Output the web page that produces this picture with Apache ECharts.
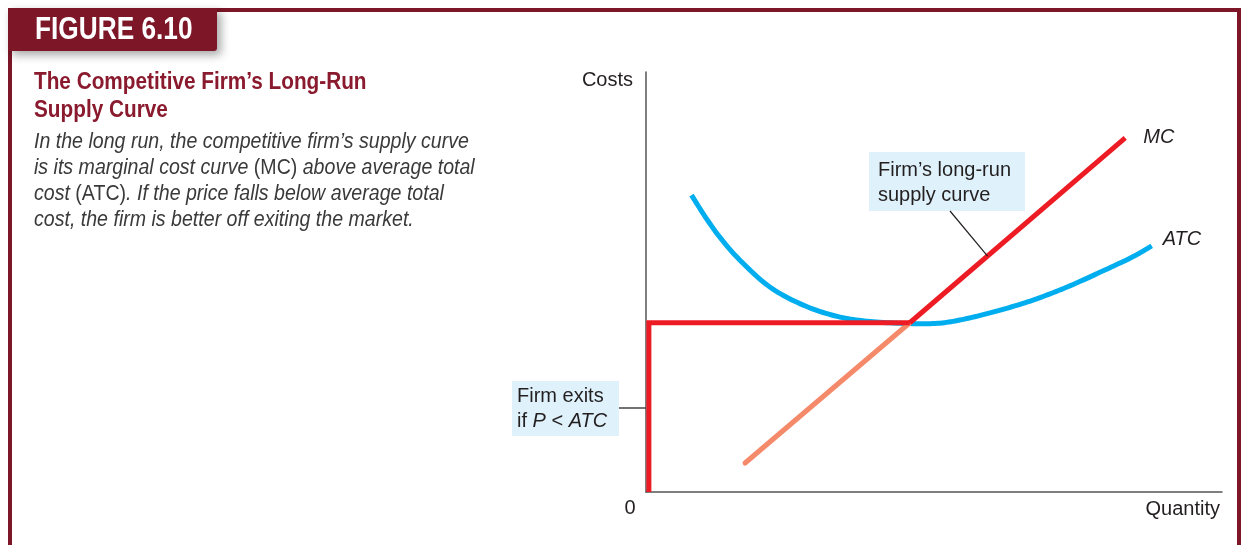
<!DOCTYPE html>
<html>
<head>
<meta charset="utf-8">
<script src="https://cdn.jsdelivr.net/npm/echarts@6/dist/echarts.min.js"></script>
<style>
html,body{margin:0;padding:0;background:#fff;}
#chart{width:1244px;height:545px;}
</style>
</head>
<body>
<div id="chart"></div>
<script>
// ---- data (quantity on x, costs on y, arbitrary units 0..100) ----
const atcQ    = [7.9, 10.2, 12.8, 16.3, 21.5, 27.3, 33.2, 38.9, 45.8, 51.0, 55.7, 61.5, 67.2, 73.1, 78.8, 84.5, 87.8];
const atcCost = [70.7, 65.7, 60.7, 55.2, 48.8, 44.5, 41.8, 40.6, 40.1, 40.2, 41.3, 43.3, 45.7, 48.8, 52.3, 56.0, 58.6];
const mcQ     = [17.2, 45.8, 83.2];
const mcCost  = [6.9, 40.3, 84.3];
const exitQ   = 0.5;         // exit segment sits on the cost axis
const minATC  = 40.3;        // price where MC crosses ATC
const supplyLabelQ = 59.3;   // where the "long-run supply" leader meets MC
const exitLabelCost = 20;    // where the "firm exits" leader meets the axis

const MAROON = '#7d1627';
const RED = '#ed1c24';
const SALMON = '#f58a6b';
const BLUE = '#00aeef';
const INK = '#231f20';
const BOX = '#dff1fa';

function zip(a, b) { return a.map((v, i) => [v, b[i]]); }
const atcData = zip(atcQ, atcCost);
const mcLower = zip(mcQ.slice(0, 2), mcCost.slice(0, 2));
const mcUpper = zip(mcQ.slice(1), mcCost.slice(1));
const exitData = [[exitQ, 0], [exitQ, minATC], [mcQ[1], minATC]];

// smooth curve through the data points (Catmull-Rom), mapped through the axes
function renderSmooth(params, api) {
  if (params.dataIndex !== 0) return null;
  const pts = atcData.map(p => api.coord(p));
  const out = [];
  const n = pts.length;
  for (let i = 0; i < n - 1; i++) {
    const p0 = pts[Math.max(i - 1, 0)], p1 = pts[i], p2 = pts[i + 1], p3 = pts[Math.min(i + 2, n - 1)];
    const c1 = [p1[0] + (p2[0] - p0[0]) / 6, p1[1] + (p2[1] - p0[1]) / 6];
    const c2 = [p2[0] - (p3[0] - p1[0]) / 6, p2[1] - (p3[1] - p1[1]) / 6];
    const steps = 12;
    for (let s = (i === 0 ? 0 : 1); s <= steps; s++) {
      const t = s / steps, u = 1 - t;
      out.push([
        u*u*u*p1[0] + 3*u*u*t*c1[0] + 3*u*t*t*c2[0] + t*t*t*p2[0],
        u*u*u*p1[1] + 3*u*u*t*c1[1] + 3*u*t*t*c2[1] + t*t*t*p2[1]
      ]);
    }
  }
  return {type: 'polyline', shape: {points: out},
          style: {stroke: BLUE, lineWidth: 5, fill: null, lineCap: 'butt', lineJoin: 'round'}};
}

const chart = echarts.init(document.getElementById('chart'), null, {renderer: 'canvas'});

const baseFont = '"Liberation Sans", Arial, Helvetica, sans-serif';

const option = {
  animation: false,
  grid: {left: 646, right: 22, top: 72, bottom: 53, containLabel: false},
  xAxis: {
    type: 'value', min: 0, max: 100,
    axisLine: {show: true, onZero: false, lineStyle: {color: '#555', width: 1.5}},
    axisTick: {show: false}, axisLabel: {show: false}, splitLine: {show: false},
    name: 'Quantity', nameLocation: 'end', nameGap: -2,
    nameTextStyle: {fontFamily: baseFont, fontSize: 20, color: INK, align: 'right', verticalAlign: 'top', padding: [7, 0, 0, 0]}
  },
  yAxis: {
    type: 'value', min: 0, max: 100,
    axisLine: {show: true, onZero: false, lineStyle: {color: '#555', width: 1.5}},
    axisTick: {show: false}, axisLabel: {show: false}, splitLine: {show: false},
    name: 'Costs', nameLocation: 'end', nameGap: -8,
    nameTextStyle: {fontFamily: baseFont, fontSize: 20, color: INK, align: 'right', verticalAlign: 'middle', padding: [0, 13, 0, 0]}
  },
  series: [
    {type: 'custom', name: 'ATC', data: atcData, renderItem: renderSmooth, encode: {x: 0, y: 1}, z: 2, clip: false},
    {type: 'line', name: 'MC below ATC', data: mcLower, showSymbol: false, z: 3,
     lineStyle: {color: SALMON, width: 5, cap: 'round'}},
    {type: 'line', name: 'Exit', data: exitData, showSymbol: false, z: 4,
     lineStyle: {color: RED, width: 5, cap: 'butt', join: 'miter'}},
    {type: 'line', name: 'MC', data: mcUpper, showSymbol: false, z: 5,
     lineStyle: {color: RED, width: 5, cap: 'butt'}}
  ]
};
chart.setOption(option);

// positions computed from data via the chart's scales
function px(q, c) { return chart.convertToPixel({gridIndex: 0}, [q, c]); }
function mcAt(q) {
  for (let i = 0; i < mcQ.length - 1; i++) {
    if (q >= mcQ[i] && q <= mcQ[i + 1]) {
      return mcCost[i] + (q - mcQ[i]) * (mcCost[i + 1] - mcCost[i]) / (mcQ[i + 1] - mcQ[i]);
    }
  }
  return mcCost[mcCost.length - 1];
}
const supplyAnchor = px(supplyLabelQ, mcAt(supplyLabelQ));
const exitAnchor = px(0, exitLabelCost);
const mcEnd = px(mcQ[2], mcCost[2]);
const atcEnd = px(atcQ[atcQ.length - 1], atcCost[atcCost.length - 1]);
const origin = px(0, 0);

const narrow = '"Liberation Sans", Arial, Helvetica, sans-serif';

const graphics = [
  // frame
  {type: 'rect', shape: {x: 8, y: 8, width: 1233, height: 4}, style: {fill: MAROON}, z: 1},
  {type: 'rect', shape: {x: 1237, y: 8, width: 4, height: 537}, style: {fill: MAROON}, z: 1},
  {type: 'rect', shape: {x: 8, y: 8, width: 4, height: 537}, style: {fill: MAROON}, z: 1},
  // badge
  {type: 'rect', shape: {x: 8, y: 8, width: 209, height: 43, r: [0, 0, 3, 0]},
   style: {fill: MAROON, shadowBlur: 10, shadowColor: 'rgba(0,0,0,0.35)', shadowOffsetX: 4, shadowOffsetY: 4}, z: 2},
  {type: 'text', x: 35, y: 30, scaleX: 0.82, z: 3,
   style: {text: 'FIGURE 6.10', fill: '#fff', font: 'bold 32px ' + narrow, verticalAlign: 'middle'}},
  // title
  {type: 'text', x: 34, y: 82, scaleX: 0.865, z: 3,
   style: {text: 'The Competitive Firm\u2019s Long-Run', fill: '#8a1a2e', font: 'bold 24px ' + narrow, verticalAlign: 'middle'}},
  {type: 'text', x: 34, y: 110, scaleX: 0.865, z: 3,
   style: {text: 'Supply Curve', fill: '#8a1a2e', font: 'bold 24px ' + narrow, verticalAlign: 'middle'}},
];

const bodyLines = [
  '{i|In the long run, the competitive firm\u2019s supply curve}',
  '{i|is its marginal cost curve }{n|(MC)}{i| above average total}',
  '{i|cost }{n|(ATC)}{i|. If the price falls below average total}',
  '{i|cost, the firm is better off exiting the market.}'
];
bodyLines.forEach((t, k) => {
  graphics.push({type: 'text', x: 34, y: 142 + k * 26, scaleX: 0.89, z: 3,
    style: {text: t, fill: '#3a3a3a', verticalAlign: 'middle',
      rich: {
        i: {fontFamily: narrow, fontSize: 22, fontStyle: 'italic', fill: '#3a3a3a', color: '#3a3a3a'},
        n: {fontFamily: narrow, fontSize: 22, fontStyle: 'normal', fill: '#3a3a3a', color: '#3a3a3a'}
      }}});
});

// supply-curve annotation
graphics.push(
  {type: 'line', shape: {x1: 950, y1: 211, x2: supplyAnchor[0], y2: supplyAnchor[1]},
   style: {stroke: '#231f20', lineWidth: 1.2}, z: 10},
  {type: 'rect', shape: {x: 869, y: 152, width: 156, height: 59}, style: {fill: BOX}, z: 9},
  {type: 'text', x: 878, y: 170, z: 11, style: {text: 'Firm\u2019s long-run', fill: INK, font: '20px ' + baseFont, verticalAlign: 'middle'}},
  {type: 'text', x: 878, y: 195, z: 11, style: {text: 'supply curve', fill: INK, font: '20px ' + baseFont, verticalAlign: 'middle'}},
  // exit annotation
  {type: 'line', shape: {x1: 619, y1: exitAnchor[1], x2: exitAnchor[0], y2: exitAnchor[1]},
   style: {stroke: '#444', lineWidth: 1.5}, z: 10},
  {type: 'rect', shape: {x: 512, y: 381, width: 107, height: 55}, style: {fill: BOX}, z: 9},
  {type: 'text', x: 517, y: 396, z: 11, style: {text: 'Firm exits', fill: INK, font: '20px ' + baseFont, verticalAlign: 'middle'}},
  {type: 'text', x: 517, y: 421, z: 11, style: {text: '{n|if }{i|P}{n| < }{i|ATC}', verticalAlign: 'middle',
    rich: {
      n: {fontFamily: baseFont, fontSize: 20, fontStyle: 'normal', fill: INK, color: INK},
      i: {fontFamily: baseFont, fontSize: 20, fontStyle: 'italic', fill: INK, color: INK}
    }}},
  // curve labels
  {type: 'text', x: mcEnd[0] + 18, y: mcEnd[1] - 1, z: 11,
   style: {text: 'MC', fill: INK, font: 'italic 20px ' + baseFont, verticalAlign: 'middle'}},
  {type: 'text', x: atcEnd[0] + 11, y: atcEnd[1] - 6, z: 11,
   style: {text: 'ATC', fill: INK, font: 'italic 20px ' + baseFont, verticalAlign: 'middle'}},
  // origin label
  {type: 'text', x: origin[0] - 16, y: origin[1] + 16, z: 11,
   style: {text: '0', fill: INK, font: '20px ' + baseFont, align: 'center', verticalAlign: 'middle'}}
);

chart.setOption({graphic: {elements: graphics}});
</script>
</body>
</html>
